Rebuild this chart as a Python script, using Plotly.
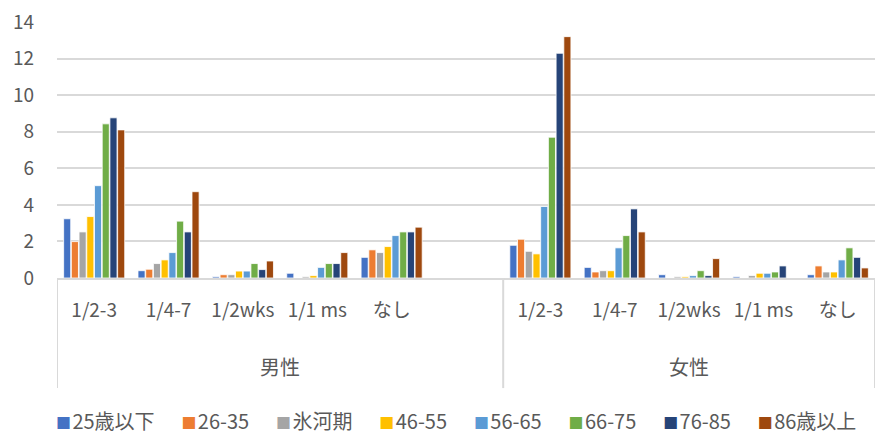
import plotly.graph_objects as go

# Response categories, repeated under each sex; a blank slot separates the two groups
categories = ["1/2-3", "1/4-7", "1/2wks", "1/1 ms", "なし"]
sexes = ["男性", "女性"]
age_groups = ["25歳以下", "26-35", "氷河期", "46-55", "56-65", "66-75", "76-85", "86歳以上"]

# Values per age group: first five = 男性, last five = 女性
male = {
    "25歳以下": [3.24, 0.40, 0.07, 0.26, 1.13],
    "26-35":   [1.99, 0.48, 0.18, 0.00, 1.54],
    "氷河期":   [2.52, 0.79, 0.18, 0.07, 1.39],
    "46-55":   [3.36, 0.99, 0.38, 0.13, 1.72],
    "56-65":   [5.05, 1.39, 0.38, 0.58, 2.32],
    "66-75":   [8.43, 3.11, 0.79, 0.79, 2.52],
    "76-85":   [8.76, 2.52, 0.46, 0.79, 2.52],
    "86歳以上": [8.10, 4.72, 0.93, 1.39, 2.78],
}
female = {
    "25歳以下": [1.79, 0.58, 0.18, 0.07, 0.18],
    "26-35":   [2.12, 0.33, 0.00, 0.00, 0.66],
    "氷河期":   [1.46, 0.40, 0.07, 0.13, 0.33],
    "46-55":   [1.32, 0.40, 0.07, 0.26, 0.33],
    "56-65":   [3.91, 1.65, 0.13, 0.26, 0.99],
    "66-75":   [7.70, 2.32, 0.40, 0.33, 1.65],
    "76-85":   [12.29, 3.78, 0.13, 0.66, 1.13],
    "86歳以上": [13.20, 2.52, 1.06, 0.00, 0.55],
}

colors = ["#4472C4", "#ED7D31", "#A5A5A5", "#FFC000",
          "#5B9BD5", "#70AD47", "#264478", "#9E480E"]

# slot positions: 男性 0-4, empty slot 5, 女性 6-10
male_pos = list(range(len(categories)))
female_pos = [p + len(categories) + 1 for p in male_pos]
positions = male_pos + female_pos
n_slots = len(categories) * 2 + 1

FONT = "Noto Sans CJK JP"
GREY_TXT = "#595959"
LINE = "#d9d9d9"

fig = go.Figure()
for name, col in zip(age_groups, colors):
    fig.add_trace(go.Bar(
        x=positions,
        y=male[name] + female[name],
        name=name,
        marker=dict(color=col, line=dict(color="white", width=0.8)),
        showlegend=False,
    ))

# group dividers below the category axis
for xv in (-0.5, len(categories) + 0.5, n_slots - 0.5):
    fig.add_shape(type="line", xref="x", yref="paper",
                  x0=xv, x1=xv, y0=0, y1=-0.43,
                  line=dict(color=LINE, width=2))

# sex labels centred under their groups
group_centres = [len(categories) / 2, (female_pos[0] + female_pos[-1]) / 2]
for label, xc in zip(sexes, group_centres):
    fig.add_annotation(x=xc, xref="x", y=-0.344, yref="paper",
                       yanchor="middle",
                       text=label, showarrow=False,
                       font=dict(family=FONT, size=20, color=GREY_TXT))

# legend row: coloured square followed by the series name
NBSP = "\u00a0"
legend_parts = []
for name, col in zip(age_groups, colors):
    legend_parts.append(
        f'<span style="color:{col};font-size:15px">■</span>'
        f'<span style="font-size:6px">{NBSP}</span>{name}')
legend_text = (NBSP * 6).join(legend_parts)
fig.add_annotation(x=(456 - 57) / (876 - 57 - 1), xref="paper",
                   y=-0.555, yref="paper",
                   xanchor="center", yanchor="middle",
                   text=legend_text, showarrow=False,
                   font=dict(family=FONT, size=20, color=GREY_TXT))

fig.update_layout(
    width=876, height=434,
    margin=dict(l=57, r=1, t=22, b=156, autoexpand=False),
    paper_bgcolor="white", plot_bgcolor="white",
    barmode="group", bargap=0.17, bargroupgap=0.08,
    font=dict(family=FONT, size=16, color=GREY_TXT),
    showlegend=False,
)
fig.update_xaxes(
    automargin=False,
    range=[-0.5, n_slots - 0.5],
    tickmode="array", tickvals=positions, ticktext=categories + categories,
    ticklabelstandoff=14,
    showgrid=False, zeroline=False,
    showline=True, linecolor=LINE, linewidth=2,
    ticks="", tickfont=dict(family=FONT, size=19, color=GREY_TXT),
)
fig.update_yaxes(
    automargin=False,
    range=[0, 14], dtick=2,
    showgrid=True, gridcolor=LINE, gridwidth=2,
    zeroline=False, showline=False, ticks="",
    ticklabelstandoff=22,
    tickfont=dict(family=FONT, size=19, color=GREY_TXT),
)

fig.write_html("out.html")
